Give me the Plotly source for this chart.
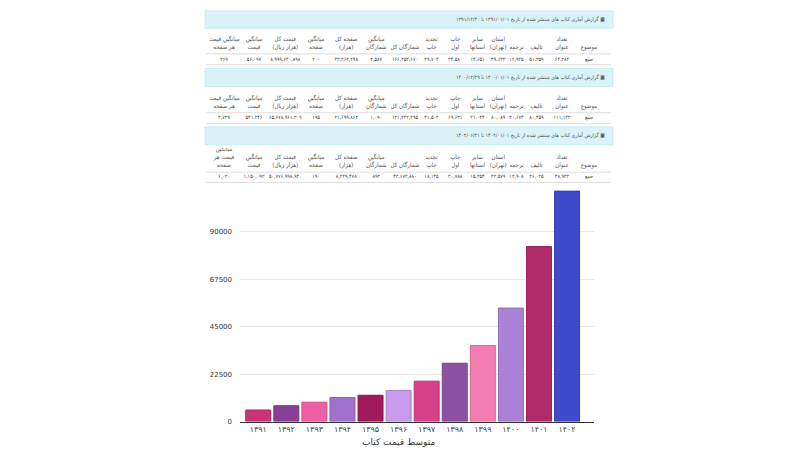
import plotly.graph_objects as go

# ---- data ----
years = ['۱۳۹۱', '۱۳۹۲', '۱۳۹۳', '۱۳۹۴', '۱۳۹۵', '۱۳۹۶',
         '۱۳۹۷', '۱۳۹۸', '۱۳۹۹', '۱۴۰۰', '۱۴۰۱', '۱۴۰۲']
avg_price = [5500, 7500, 9200, 11400, 12500, 14800,
             19200, 27700, 36100, 53900, 83100, 109400]
x_title = 'متوسط قیمت کتاب'

# table headers, right to left as in the page, '|' = line break
headers = ['موضوع', 'تعداد|عنوان', 'تالیف', 'ترجمه', 'استان|(تهران)',
           'سایر|استانها', 'چاپ|اول', 'تجدید|چاپ', 'شمارگان کل',
           'میانگین|شمارگان', 'صفحه کل|(هزار)', 'میانگین|صفحه',
           'قیمت کل|(هزار ریال)', 'میانگین|قیمت', 'میانگین قیمت|هر صفحه']
headers3 = headers[:-1] + ['میانگین|قیمت هر|صفحه']

titles = [
    'گزارش آماری کتاب های منتشر شده از تاریخ ۱۳۹۱/۰۱/۰۱ تا ۱۳۹۱/۱۲/۳۰',
    'گزارش آماری کتاب های منتشر شده از تاریخ ۱۴۰۰/۰۱/۰۱ تا ۱۴۰۰/۱۲/۲۹',
    'گزارش آماری کتاب های منتشر شده از تاریخ ۱۴۰۲/۰۱/۰۱ تا ۱۴۰۲/۰۶/۳۱',
]
row1 = ['جمع', '۶۴,۲۸۴', '۵۱,۳۵۹', '۱۲,۹۲۵', '۴۹,۶۳۳', '۱۴,۶۵۱', '۳۴,۵۸۰',
        '۲۹,۷۰۴', '۱۶۶,۳۵۲,۶۷۰', '۲,۵۸۷', '۳۳,۳۶۳,۲۹۸', '۲۰۰',
        '۸,۹۹۹,۶۴۰,۸۹۸', '۵۶,۰۹۷', '۲۶۹']
row2 = ['جمع', '۱۱۱,۱۳۳', '۸۰,۴۵۹', '۳۰,۶۷۴', '۸۰,۰۸۹', '۳۱,۰۴۴', '۶۹,۶۳۱',
        '۴۱,۵۰۲', '۱۲۱,۲۳۲,۲۹۵', '۱,۰۹۰', '۲۱,۶۹۹,۸۶۲', '۱۹۵',
        '۶۵,۶۷۸,۹۶۱,۳۰۹', '۵۴۱,۳۴۶', '۲,۷۲۹']
row3 = ['جمع', '۴۸,۹۳۳', '۳۶,۰۲۵', '۱۲,۹۰۸', '۳۳,۵۷۹', '۱۵,۳۵۴', '۳۰,۷۸۸',
        '۱۸,۱۴۵', '۴۳,۶۷۳,۸۸۰', '۸۹۲', '۸,۳۲۹,۴۷۸', '۱۹۰',
        '۵۰,۷۷۶,۹۹۸,۹۳۰', '۱,۱۵۰,۰۹۲', '۶,۰۳۰']

# ---- styles ----
W, H = 800, 449
FONT = 'DejaVu Sans, sans-serif'
TFONT = 'DejaVu Sans Condensed, DejaVu Sans, sans-serif'
bar_colors = ['#cc3377', '#8a3f96', '#ee5fa5', '#a070cc', '#a0195c', '#c89aeb',
              '#d8408a', '#8e51a2', '#f37db0', '#ab82d6', '#b02a6a', '#3f4acb']
# column widths, left to right
col_w = [29, 31, 31.5, 30, 30.5, 29.5, 28, 25, 22.5, 22, 19.5, 17, 23, 28, 26]


def py(px):
    return 1 - px / H


def darker(c, f=0.85):
    r, g, b = int(c[1:3], 16), int(c[3:5], 16), int(c[5:7], 16)
    return 'rgb(%d,%d,%d)' % (r * f, g * f, b * f)


def head_cells(hs):
    # bottom-align multi-line headers
    n = max(len(h.split('|')) for h in hs)
    out = []
    for h in hs:
        parts = h.split('|')
        out.append('<br>' * (n - len(parts)) + '<br>'.join(parts))
    return out[::-1]


col_x = []
acc = 0
for w in col_w:
    col_x.append(acc + w / 2)
    acc += w

fig = go.Figure()

# (title, headers, row, banner top/bottom, header centre, data centre, separator, bottom line) in px
tables = [
    (titles[0], headers, row1, 3, 20.5, 35.9, 51.7, 46.3, 57.3),
    (titles[1], headers, row2, 61, 79.3, 95.5, 111.0, 105.7, 116.7),
    (titles[2], headers3, row3, 120, 138, 151.0, 170.5, 165.7, 176.0),
]
shapes, annos = [], []
layout_axes = {}
for i, (title, hs, row, b0, b1, hc, dc, sep, bot) in enumerate(tables):
    yname = 'y%d' % (i + 2)
    u = dc - hc
    layout_axes['yaxis%d' % (i + 2)] = dict(
        domain=[py(dc + 0.5 * u), py(hc - 0.5 * u)], range=[-0.5, 1.5],
        visible=False, anchor='x2', fixedrange=True)
    fig.add_trace(go.Scatter(
        x=col_x, y=[1] * len(col_x), xaxis='x2', yaxis=yname, mode='text',
        text=head_cells(hs), textposition='middle center', hoverinfo='skip',
        textfont=dict(family=TFONT, size=6.1, color='#555')))
    fig.add_trace(go.Scatter(
        x=col_x, y=[0] * len(col_x), xaxis='x2', yaxis=yname, mode='text',
        text=row[::-1], textposition='middle center', hoverinfo='skip',
        textfont=dict(family=TFONT, size=5.3, color='#444')))
    shapes.append(dict(type='rect', xref='paper', yref='paper', layer='below',
                       x0=197 / W, x1=605 / W, y0=py(b1), y1=py(b0),
                       fillcolor='#d9f3f8', line=dict(color='#c8ecf3', width=1)))
    for ly in (sep, bot):
        shapes.append(dict(type='line', xref='paper', yref='paper', layer='below',
                           x0=198 / W, x1=603 / W, y0=py(ly), y1=py(ly),
                           line=dict(color='#dedede', width=1)))
    annos.append(dict(text='\u200f▦ ' + title, xref='paper', yref='paper',
                      x=599 / W, y=py((b0 + b1) / 2), xanchor='right', yanchor='middle',
                      showarrow=False, font=dict(family=TFONT, size=5.3, color='#555')))

# axis title sits a little left of the plot centre in the original
annos.append(dict(text=x_title, xref='paper', yref='paper', x=390 / W, y=py(438),
                  xanchor='center', yanchor='middle', showarrow=False, borderpad=0,
                  font=dict(family=FONT, size=9, color='#333')))

fig.add_trace(go.Bar(
    x=years, y=avg_price,
    marker=dict(color=bar_colors, line=dict(color=[darker(c) for c in bar_colors], width=1)),
    width=0.89,
    hoverinfo='x+y',
))

fig.update_layout(
    width=W, height=H,
    margin=dict(l=0, r=0, t=0, b=0),
    paper_bgcolor='white', plot_bgcolor='white',
    showlegend=False,
    shapes=shapes, annotations=annos,
    font=dict(family=FONT, color='#444'),
    xaxis=dict(domain=[232 / W, 586 / W], type='category', range=[-0.65, 11.96],
               showline=True, linecolor='#333', linewidth=1, showgrid=False,
               ticks='', tickfont=dict(size=8, color='#444')),
    yaxis=dict(domain=[py(417.3), py(182)], range=[0, 110700],
               tickvals=[0, 22500, 45000, 67500, 90000], tickformat='d',
               showgrid=True, gridcolor='#e6e6e6', zeroline=False, showline=False,
               tickfont=dict(size=7, color='#333'), ticklabelstandoff=7),
    xaxis2=dict(domain=[201.5 / W, 594 / W], range=[0, sum(col_w)],
                visible=False, anchor='y2', fixedrange=True),
    **layout_axes,
)

fig.write_html('out.html')
